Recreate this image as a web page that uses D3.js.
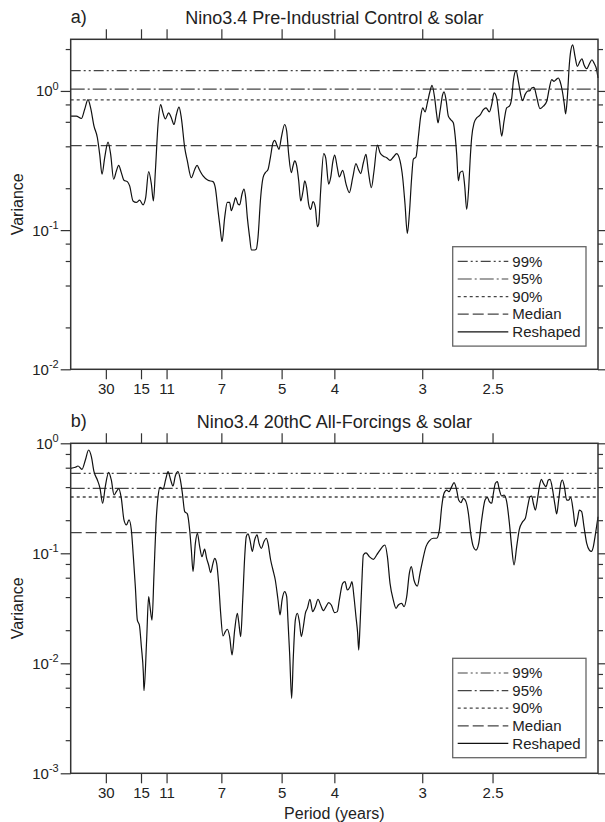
<!DOCTYPE html>
<html>
<head>
<meta charset="utf-8">
<script src="https://cdn.jsdelivr.net/npm/d3@7"></script>
<style>
  body { margin: 0; background: #fff; }
  svg { font-family: "Liberation Sans", Arial, Helvetica, sans-serif; }
</style>
</head>
<body>
<svg id="chart" width="605" height="822"></svg>
<script>
// ---- data ----
// x axis is frequency (cycles / year), labelled with the period
const periodTicks = [30, 15, 11, 7, 5, 4, 3, 2.5];
const legendLabels = ["99%", "95%", "90%", "Median", "Reshaped"];

// a) Pre-Industrial Control & solar
const freqA = [0.000, 0.0053, 0.0101, 0.0132, 0.0164, 0.0189, 0.0221, 0.0253, 0.0275, 0.0297,
  0.0322, 0.0354, 0.0379, 0.0407, 0.0433, 0.0455, 0.0480, 0.0505, 0.0537, 0.0559,
  0.0591, 0.0622, 0.0654, 0.0686, 0.0711, 0.0739, 0.0765, 0.0784, 0.0803, 0.0828,
  0.0853, 0.0875, 0.0897, 0.0929, 0.0954, 0.0980, 0.1002, 0.1027, 0.1049, 0.1081,
  0.1106, 0.1144, 0.1176, 0.1198, 0.1223, 0.1255, 0.1302, 0.1349, 0.1371, 0.1397,
  0.1416, 0.1435, 0.1460, 0.1485, 0.1507, 0.1523, 0.1545, 0.1564, 0.1586, 0.1602,
  0.1624, 0.1643, 0.1659, 0.1675, 0.1697, 0.1713, 0.1744, 0.1760, 0.1776, 0.1801,
  0.1824, 0.1846, 0.1871, 0.1893, 0.1918, 0.1934, 0.1959, 0.1975, 0.1997, 0.2029,
  0.2048, 0.2067, 0.2092, 0.2108, 0.2124, 0.2143, 0.2162, 0.2181, 0.2203, 0.2219,
  0.2237, 0.2256, 0.2275, 0.2298, 0.2320, 0.2339, 0.2351, 0.2370, 0.2399, 0.2418,
  0.2446, 0.2465, 0.2487, 0.2503, 0.2528,
  0.2547, 0.2579, 0.2611, 0.2642, 0.2674, 0.2705, 0.2728, 0.2750, 0.2775, 0.2800,
  0.2822, 0.2851, 0.2876, 0.2908, 0.2933, 0.2965, 0.2997, 0.3028, 0.3060, 0.3091,
  0.3123, 0.3148, 0.3170, 0.3192, 0.3211, 0.3233, 0.3249, 0.3274, 0.3296, 0.3319,
  0.3338, 0.3360, 0.3382, 0.3407, 0.3426, 0.3451, 0.3470, 0.3483, 0.3502, 0.3527,
  0.3540, 0.3559, 0.3581, 0.3603, 0.3628, 0.3644, 0.3660, 0.3676, 0.3692, 0.3717,
  0.3736, 0.3755, 0.3774, 0.3787, 0.3802, 0.3825, 0.3850, 0.3881, 0.3913, 0.3938,
  0.3970, 0.3992, 0.4014, 0.4039, 0.4065, 0.4087, 0.4109, 0.4134, 0.4160, 0.4182,
  0.4197, 0.4223, 0.4245, 0.4267, 0.4286, 0.4308, 0.4330, 0.4355, 0.4371, 0.4393,
  0.4419, 0.4450, 0.4482, 0.4514, 0.4539, 0.4561, 0.4583, 0.4602, 0.4624, 0.4640,
  0.4662, 0.4681, 0.4693, 0.4709, 0.4728, 0.4741, 0.4760, 0.4782, 0.4804, 0.4829,
  0.4848, 0.4867, 0.4893, 0.4918, 0.4943, 0.4962, 0.4987, 0.5000];
const varA = [0.659, 0.659, 0.634, 0.735, 0.867, 0.756, 0.559, 0.461, 0.350, 0.252,
  0.331, 0.429, 0.350, 0.232, 0.266, 0.292, 0.259, 0.228, 0.223, 0.208,
  0.162, 0.158, 0.164, 0.152, 0.171, 0.263, 0.214, 0.162, 0.266, 0.574,
  0.798, 0.696, 0.630, 0.696, 0.641, 0.574, 0.677, 0.764, 0.641, 0.391,
  0.314, 0.238, 0.273, 0.292, 0.269, 0.245, 0.228, 0.223, 0.202, 0.138,
  0.105, 0.0825, 0.123, 0.158, 0.158, 0.138, 0.154, 0.171, 0.154, 0.152,
  0.181, 0.197, 0.171, 0.123, 0.0886, 0.0720, 0.0720, 0.0731, 0.0886, 0.171,
  0.238, 0.259, 0.273, 0.331, 0.424, 0.441, 0.402, 0.380, 0.461, 0.574,
  0.514, 0.350, 0.259, 0.289, 0.314, 0.289, 0.226, 0.162, 0.191, 0.226,
  0.202, 0.154, 0.141, 0.160, 0.145, 0.106, 0.110, 0.191, 0.354, 0.331,
  0.214, 0.238, 0.314, 0.346, 0.281,
  0.241, 0.269, 0.214, 0.186, 0.238, 0.300, 0.273, 0.255, 0.305, 0.350,
  0.266, 0.202, 0.266, 0.408, 0.360, 0.340, 0.331, 0.317, 0.335, 0.354,
  0.314, 0.238, 0.154, 0.0947, 0.130, 0.238, 0.323, 0.335, 0.461, 0.659,
  0.756, 0.707, 0.821, 0.995, 1.098, 0.891, 0.677, 0.590, 0.715, 0.941,
  0.984, 0.867, 0.659, 0.623, 0.590, 0.487, 0.350, 0.226, 0.259, 0.266,
  0.208, 0.141, 0.202, 0.314, 0.461, 0.590, 0.641, 0.669, 0.735, 0.756,
  0.707, 0.798, 0.968, 0.891, 0.623, 0.474, 0.606, 0.756, 0.777, 0.891,
  1.173, 1.398, 1.173, 0.941, 0.853, 0.941, 0.995, 1.005, 1.051, 1.062,
  0.901, 0.747, 0.777, 0.844, 1.051, 1.205, 1.173, 1.205, 1.239, 1.173,
  0.995, 0.798, 0.684, 0.891, 1.543, 1.923, 2.147, 1.771, 1.502, 1.631,
  1.704, 1.543, 1.445, 1.561, 1.676, 1.586, 1.421, 1.239];
const thresholdsA = [1.40, 1.03, 0.862, 0.405];

// b) 20thC All-Forcings & solar
const freqB = [0.000, 0.0044, 0.0069, 0.0107, 0.0139, 0.0170, 0.0196, 0.0221, 0.0253, 0.0278,
  0.0303, 0.0328, 0.0360, 0.0385, 0.0411, 0.0433, 0.0455, 0.0480, 0.0505, 0.0528,
  0.0553, 0.0575, 0.0594, 0.0613, 0.0632, 0.0651, 0.0670, 0.0689, 0.0695, 0.0720,
  0.0739, 0.0752, 0.0771, 0.0790, 0.0809, 0.0828, 0.0847, 0.0875, 0.0901, 0.0923,
  0.0948, 0.0970, 0.0992, 0.1017, 0.1040, 0.1059, 0.1081, 0.1106, 0.1128, 0.1144,
  0.1160, 0.1182, 0.1201, 0.1223, 0.1245, 0.1270, 0.1289, 0.1308, 0.1327, 0.1349,
  0.1365, 0.1384, 0.1403, 0.1422, 0.1444, 0.1466, 0.1485, 0.1507, 0.1530, 0.1555,
  0.1580, 0.1593, 0.1612, 0.1631, 0.1650, 0.1665, 0.1681, 0.1700, 0.1722, 0.1744,
  0.1767, 0.1786, 0.1808, 0.1833, 0.1855, 0.1871, 0.1896, 0.1918, 0.1940, 0.1966,
  0.1985, 0.2004, 0.2029, 0.2048, 0.2060, 0.2076, 0.2095, 0.2111, 0.2130, 0.2149,
  0.2168, 0.2187, 0.2206, 0.2225, 0.2244, 0.2269, 0.2294, 0.2320, 0.2345, 0.2370,
  0.2396, 0.2421, 0.2446, 0.2471, 0.2503, 0.2528,
  0.2547, 0.2579, 0.2601, 0.2623, 0.2649, 0.2667, 0.2686, 0.2705, 0.2721, 0.2731,
  0.2743, 0.2759, 0.2775, 0.2800, 0.2832, 0.2870, 0.2901, 0.2933, 0.2965, 0.2980,
  0.3003, 0.3028, 0.3059, 0.3085, 0.3107, 0.3138, 0.3161, 0.3186, 0.3211, 0.3230,
  0.3255, 0.3287, 0.3312, 0.3338, 0.3369, 0.3401, 0.3439, 0.3470, 0.3496, 0.3518,
  0.3540, 0.3565, 0.3587, 0.3613, 0.3635, 0.3660, 0.3679, 0.3701, 0.3723, 0.3748,
  0.3771, 0.3793, 0.3818, 0.3843, 0.3869, 0.3897, 0.3929, 0.3951, 0.3970, 0.3992,
  0.4008, 0.4027, 0.4046, 0.4065, 0.4087, 0.4109, 0.4134, 0.4160, 0.4181, 0.4204,
  0.4229, 0.4254, 0.4286, 0.4311, 0.4333, 0.4355, 0.4371, 0.4387, 0.4406, 0.4425,
  0.4444, 0.4463, 0.4482, 0.4507, 0.4529, 0.4545, 0.4570, 0.4592, 0.4608, 0.4627,
  0.4649, 0.4662, 0.4681, 0.4703, 0.4722, 0.4741, 0.4766, 0.4785, 0.4804, 0.4823,
  0.4845, 0.4867, 0.4893, 0.4918, 0.4937, 0.4956, 0.4972, 0.5000];
const varB = [0.592, 0.605, 0.622, 0.580, 0.705, 0.869, 0.756, 0.552, 0.464, 0.390,
  0.285, 0.404, 0.545, 0.464, 0.339, 0.363, 0.387, 0.316, 0.201, 0.181,
  0.201, 0.163, 0.0932, 0.0497, 0.0247, 0.0223, 0.0142, 0.00811, 0.00564, 0.0163,
  0.0403, 0.0327, 0.0247, 0.0657, 0.187, 0.327, 0.398, 0.382, 0.470, 0.552,
  0.464, 0.409, 0.504, 0.552, 0.464, 0.351, 0.239, 0.228, 0.163, 0.107,
  0.0681, 0.123, 0.152, 0.115, 0.0932, 0.109, 0.0900, 0.0783, 0.0667, 0.0811,
  0.0900, 0.0811, 0.0533, 0.0285, 0.0177, 0.0194, 0.0204, 0.0175, 0.0119, 0.0201,
  0.0285, 0.0239, 0.0175, 0.0376, 0.0932, 0.142, 0.150, 0.132, 0.104, 0.132,
  0.147, 0.123, 0.111, 0.128, 0.137, 0.123, 0.0869, 0.0705, 0.0572, 0.0376,
  0.0275, 0.0376, 0.0448, 0.0403, 0.0247, 0.0123, 0.0048, 0.0115, 0.0247, 0.0285,
  0.0239, 0.0175, 0.0215, 0.0285, 0.0316, 0.0382, 0.0295, 0.0327, 0.0382, 0.0339,
  0.0301, 0.0327, 0.0356, 0.0339, 0.0289, 0.0295,
  0.0376, 0.0533, 0.0552, 0.0464, 0.0497, 0.0552, 0.0403, 0.0265, 0.0187, 0.0132,
  0.0215, 0.0497, 0.0965, 0.101, 0.0932, 0.0881, 0.0965, 0.107, 0.117, 0.119,
  0.0932, 0.0533, 0.0376, 0.0316, 0.0339, 0.0351, 0.0327, 0.0403, 0.0657, 0.0756,
  0.0572, 0.0504, 0.0657, 0.0869, 0.115, 0.130, 0.137, 0.137, 0.163, 0.265,
  0.351, 0.376, 0.363, 0.404, 0.439, 0.376, 0.305, 0.289, 0.316, 0.295,
  0.231, 0.152, 0.115, 0.107, 0.123, 0.201, 0.305, 0.323, 0.295, 0.285,
  0.351, 0.433, 0.448, 0.376, 0.332, 0.339, 0.295, 0.187, 0.115, 0.0783,
  0.115, 0.165, 0.194, 0.208, 0.265, 0.327, 0.332, 0.285, 0.247, 0.305,
  0.404, 0.470, 0.433, 0.404, 0.464, 0.470, 0.376, 0.275, 0.228, 0.305,
  0.439, 0.464, 0.404, 0.305, 0.305, 0.323, 0.239, 0.175, 0.201, 0.247,
  0.239, 0.175, 0.123, 0.107, 0.104, 0.115, 0.142, 0.215];
const thresholdsB = [0.533, 0.390, 0.325, 0.154];

// ---- layout ----
const svg = d3.select("#chart");
const left = 70.7, right = 598, panelH = 330;
const dashes = ["10,3,2,3,2,3", "14,3,2,3", "3,3", "11,4", null];

const x = d3.scaleLinear().domain([0, 0.5]).range([left, right]);

function drawPanel(cfg) {
  const top = cfg.top, bottom = top + panelH;
  const y = d3.scaleLog().domain(cfg.yDomain).range([bottom, top]);
  const g = svg.append("g");

  // tick values: decades and 2,4,6,8 multiples
  const majors = [], minors = [];
  for (let k = -4; k <= 1; k++) {
    const p = Math.pow(10, k);
    if (p >= cfg.yDomain[0] && p <= cfg.yDomain[1]) majors.push(p);
    [2, 4, 6, 8].forEach(m => {
      const v = m * p;
      if (v > cfg.yDomain[0] && v < cfg.yDomain[1]) minors.push(v);
    });
  }
  const freqTicks = periodTicks.map(p => 1 / p);

  // axes
  const xb = g.append("g").attr("transform", `translate(0,${bottom})`)
    .call(d3.axisBottom(x).tickValues(freqTicks).tickSize(10).tickPadding(4.3)
      .tickFormat((d, i) => periodTicks[i]));
  const xt = g.append("g").attr("transform", `translate(0,${top})`)
    .call(d3.axisTop(x).tickValues(freqTicks).tickSize(10).tickFormat(""));
  const yl = g.append("g").attr("transform", `translate(${left},0)`)
    .call(d3.axisLeft(y).tickValues(majors).tickSize(10).tickFormat(""));
  const ylm = g.append("g").attr("transform", `translate(${left},0)`)
    .call(d3.axisLeft(y).tickValues(minors).tickSize(5).tickFormat(""));
  const yr = g.append("g").attr("transform", `translate(${right},0)`)
    .call(d3.axisRight(y).tickValues(majors).tickSize(7).tickFormat(""));
  const yrm = g.append("g").attr("transform", `translate(${right},0)`)
    .call(d3.axisRight(y).tickValues(minors).tickSize(5).tickFormat(""));
  [xb, xt, yl, ylm, yr, yrm].forEach(a => {
    a.select(".domain").remove();
    a.selectAll("line").attr("stroke", "#333").attr("stroke-width", 1.2);
  });
  xb.selectAll("text").attr("font-size", 15).attr("fill", "#222")
    .attr("font-family", "Liberation Sans, Arial, sans-serif");

  // decade labels 10^k
  const lab = g.selectAll(".ylab").data(majors).join("text")
    .attr("class", "ylab")
    .attr("x", left - 12).attr("y", d => y(d) + 5.5)
    .attr("text-anchor", "end").attr("fill", "#222").attr("font-size", 15);
  lab.append("tspan").text("10");
  lab.append("tspan").attr("dy", -6.5).attr("font-size", 11)
    .text(d => Math.round(Math.log10(d)));

  // reference levels
  g.append("g").selectAll("line").data(cfg.thresholds).join("line")
    .attr("x1", left).attr("x2", right)
    .attr("y1", d => y(d)).attr("y2", d => y(d))
    .attr("stroke", "#444").attr("stroke-width", 1.3)
    .attr("stroke-dasharray", (d, i) => dashes[i]);

  // spectrum
  const pts = cfg.freq.map((f, i) => [f, cfg.values[i]]);
  g.append("path").datum(pts)
    .attr("fill", "none").attr("stroke", "#111").attr("stroke-width", 1.2)
    .attr("d", d3.line().x(d => x(d[0])).y(d => y(d[1])).curve(d3.curveMonotoneX));

  // frame
  g.append("rect").attr("x", left).attr("y", top)
    .attr("width", right - left).attr("height", panelH)
    .attr("fill", "none").attr("stroke", "#333").attr("stroke-width", 1.5);

  // titles
  g.append("text").attr("x", left).attr("y", top - 16)
    .attr("font-size", 18).attr("fill", "#222").text(cfg.letter);
  g.append("text").attr("x", (left + right) / 2).attr("y", top - 15.5)
    .attr("text-anchor", "middle").attr("font-size", 18).attr("fill", "#222")
    .text(cfg.title);

  // y label
  g.append("text")
    .attr("transform", `translate(23,${top + panelH / 2}) rotate(-90)`)
    .attr("text-anchor", "middle").attr("font-size", 16).attr("fill", "#222")
    .text("Variance");

  // legend
  const lx = 452.7, ly = cfg.legendTop, rowH = 17.6;
  const leg = g.append("g");
  leg.append("rect").attr("x", lx).attr("y", ly).attr("width", 133.3).attr("height", 99.4)
    .attr("fill", "#fff").attr("stroke", "#666").attr("stroke-width", 1.3);
  const rows = leg.selectAll(".row").data(legendLabels).join("g")
    .attr("transform", (d, i) => `translate(0,${ly + 14.7 + i * rowH})`);
  rows.append("line").attr("x1", lx + 5).attr("x2", lx + 55.6)
    .attr("stroke", (d, i) => i < 4 ? "#444" : "#111").attr("stroke-width", 1.2)
    .attr("stroke-dasharray", (d, i) => dashes[i]);
  rows.append("text").attr("x", lx + 59.6).attr("y", 5.2)
    .attr("font-size", 15).attr("fill", "#222").text(d => d);
}

drawPanel({
  top: 39.3, yDomain: [0.01, 2.35], freq: freqA, values: varA, thresholds: thresholdsA,
  letter: "a)", title: "Nino3.4 Pre-Industrial Control & solar", legendTop: 246.7
});
drawPanel({
  top: 443.3, yDomain: [0.001, 1], freq: freqB, values: varB, thresholds: thresholdsB,
  letter: "b)", title: "Nino3.4 20thC All-Forcings & solar", legendTop: 658.3
});

svg.append("text").attr("x", (left + right) / 2).attr("y", 818.5)
  .attr("text-anchor", "middle").attr("font-size", 16).attr("fill", "#222")
  .text("Period (years)");
</script>
</body>
</html>
